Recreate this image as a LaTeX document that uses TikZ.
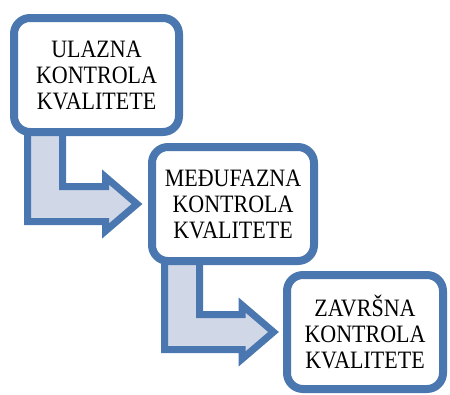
\documentclass[tikz,border=0pt]{standalone}
\usepackage{fontspec}
\setmainfont{Liberation Serif}[FakeStretch=0.88]
\usetikzlibrary{calc, shadows, backgrounds}
\definecolor{stepblue}{RGB}{74,119,175}
\definecolor{steplight}{RGB}{208,216,232}

\begin{document}
\begin{tikzpicture}[
  x=1pt, y=-1pt,
  stepbox/.style={draw=stepblue, line width=8pt, rounded corners=16pt, fill=white,
                  align=center, inner sep=0pt, font=\fontsize{25}{26}\selectfont,
                  drop shadow={shadow xshift=1.5pt, shadow yshift=-1.5pt, opacity=0.25, fill=black}},
  bent/.style={draw=stepblue, fill=steplight, line width=7pt, miter limit=10,
               drop shadow={shadow xshift=1.5pt, shadow yshift=-1.5pt, opacity=0.2, fill=black}}
]
\useasboundingbox (0,0) rectangle (450,394);

%% ---- steps ----
\node[stepbox, minimum width=165pt, minimum height=114pt] (ulaz) at (96.5,75)
  {ULAZNA\\KONTROLA\\KVALITETE};
\node[stepbox, minimum width=162pt, minimum height=114pt] (medju) at (233,204)
  {MEĐUFAZNA\\KONTROLA\\KVALITETE};
\node[stepbox, minimum width=156pt, minimum height=114pt] (zavrs) at (365,332)
  {ZAVRŠNA\\KONTROLA\\KVALITETE};

%% ---- bent arrows between steps ----
\begin{scope}[on background layer]
\draw[bent] ($(ulaz.south west)+(17.5,-4)$) |- ($(medju.west)+(-42.5,17.5)$)
  -- ++(0,9.5) -- ($(medju.west)+(-11,0)$) -- ($(medju.west)+(-42.5,-27)$)
  -- ++(0,9.5) -| ($(ulaz.south west)+(52.5,-4)$) -- cycle;
\draw[bent] ($(medju.south west)+(16.5,-4)$) |- ($(zavrs.west)+(-41,17.5)$)
  -- ++(0,9.5) -- ($(zavrs.west)+(-9.5,0)$) -- ($(zavrs.west)+(-41,-27)$)
  -- ++(0,9.5) -| ($(medju.south west)+(51.5,-4)$) -- cycle;
\end{scope}

\end{tikzpicture}
\end{document}
